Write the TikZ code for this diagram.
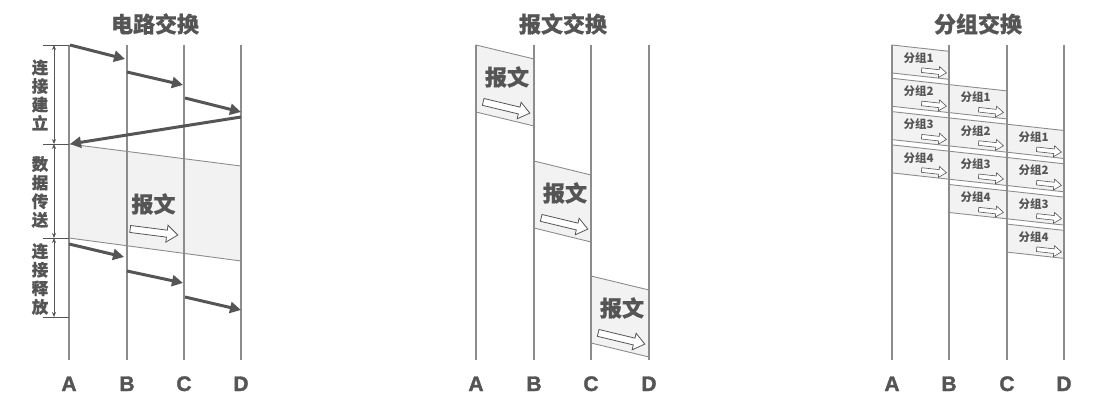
\documentclass[tikz,border=0pt]{standalone}
\usepackage{fontspec}
\setmainfont{Liberation Sans}
\newfontfamily\heavy{Liberation Sans}[BoldFeatures={FakeBold=1.6}]
\newfontfamily\cjk{Noto Sans CJK SC}
\newfontfamily\cjkheavy{Noto Sans CJK SC}[BoldFeatures={FakeBold=0.6}]
\usetikzlibrary{arrows.meta}
\definecolor{txt}{HTML}{555555}
\definecolor{ln}{HTML}{8C8C8C}
\definecolor{arr}{HTML}{555555}
\definecolor{boxfill}{HTML}{F2F2F2}
\begin{document}
\begin{tikzpicture}[x=1pt,y=-1pt,
  timeline/.style={draw=ln,line width=1.2pt},
  sig/.style={draw=arr,line width=3pt,-{Triangle[length=11pt,width=11pt]}},
  brk/.style={draw=arr,line width=0.8pt},
  dbl/.style={draw=arr,line width=0.7pt,{Stealth[length=5pt,width=4pt]}-{Stealth[length=5pt,width=4pt]}},
  title/.style={font=\cjkheavy\bfseries\fontsize{22}{24}\selectfont,text=txt},
  col/.style={font=\heavy\bfseries\fontsize{21}{24}\selectfont,text=txt,anchor=base},
  vlab/.style={font=\cjkheavy\bfseries\fontsize{16.5}{18.6}\selectfont,text=txt,align=center,inner sep=0pt},
  msg/.style={font=\cjkheavy\bfseries\fontsize{22}{24}\selectfont,text=txt,inner sep=0pt},
  pkt/.style={font=\cjk\bfseries\fontsize{11.5}{12}\selectfont,text=txt,inner sep=0pt},
  box/.style={draw=ln,fill=boxfill,line width=0.9pt},
  bigarrow/.pic={\draw[draw=arr,fill=white,line width=0.8pt,line join=miter]
     (-24,-3.5) -- (13,-3.5) -- (13,-8.5) -- (24,0) -- (13,8.5) -- (13,3.5) -- (-24,3.5) -- cycle;},
  smallarrow/.pic={\draw[draw=arr,fill=white,line width=0.6pt,line join=miter]
     (-12.5,-2.3) -- (5,-2.3) -- (5,-5.5) -- (12.5,0) -- (5,5.5) -- (5,2.3) -- (-12.5,2.3) -- cycle;}
]
\useasboundingbox (0,0) rectangle (1113,409);

% ================= circuit switching =================
\node[title] (t1) at (155,24) {电路交换};
% data region
\draw[box] (69,144) -- (241,166) -- (241,261) -- (69,238) -- cycle;
\node[msg] (cm) at (153.5,204) {报文};
\pic[rotate=-7.3] at (154,232) {bigarrow};
% timelines
\foreach \n/\x in {A/69,B/127,C/184,D/241}{
  \coordinate (c\n t) at (\x,45);
  \coordinate (c\n b) at (\x,360);
  \draw[timeline] (c\n t) -- (c\n b);
  \node[col] (c\n l) at (\x,391) {\n};
}
% setup arrows
\coordinate (s1a) at (70,45);  \coordinate (s1b) at (125,59);
\coordinate (s2a) at (127,72); \coordinate (s2b) at (183,85);
\coordinate (s3a) at (185,98); \coordinate (s3b) at (241,112);
\coordinate (s4a) at (241,117);\coordinate (s4b) at (70,144);
\draw[sig] (s1a) -- (s1b);
\draw[sig] (s2a) -- (s2b);
\draw[sig] (s3a) -- (s3b);
\draw[sig] (s4a) -- (s4b);
% release arrows
\coordinate (r1a) at (69,244);  \coordinate (r1b) at (124,257);
\coordinate (r2a) at (127,271); \coordinate (r2b) at (183,283);
\coordinate (r3a) at (185,297); \coordinate (r3b) at (241,310);
\draw[sig] (r1a) -- (r1b);
\draw[sig] (r2a) -- (r2b);
\draw[sig] (r3a) -- (r3b);
% bracket
\foreach \k/\y in {0/45,1/144,2/238,3/317}{
  \coordinate (k\k l) at (43,\y);
  \coordinate (k\k r) at (69,\y);
  \coordinate (k\k m) at (54,\y);
  \draw[brk] (k\k l) -- (k\k r);
}
\draw[dbl] (k0m) -- (k1m);
\draw[dbl] (k1m) -- (k2m);
\draw[dbl] (k2m) -- (k3m);
\node[vlab] (v1) at (40,95) {连\\接\\建\\立};
\node[vlab] (v2) at (40,192) {数\\据\\传\\送};
\node[vlab] (v3) at (40,279) {连\\接\\释\\放};

% ================= message switching =================
\node[title] (t2) at (563,24) {报文交换};
\foreach \m/\xa/\xb/\ya in {1/476/534/45,2/534/591/161,3/591/649/276}{
  \draw[box] (\xa,\ya) -- ({\xb},{\ya+14}) -- ({\xb},{\ya+81}) -- ({\xa},{\ya+67}) -- cycle;
  \node[msg] (mm\m) at ({\xa+31},{\ya+32}) {报文};
  \pic[rotate=-13.5] at ({\xa+30.5},{\ya+62.5}) {bigarrow};
}
\foreach \n/\x in {A/476,B/534,C/591,D/649}{
  \coordinate (m\n t) at (\x,45);
  \coordinate (m\n b) at (\x,360);
  \draw[timeline] (m\n t) -- (m\n b);
  \node[col] (m\n l) at (\x,391) {\n};
}

% ================= packet switching =================
\node[title] (t3) at (978,24) {分组交换};
\foreach \i in {1,...,4}{
  \foreach \j/\xa/\xb in {0/892/949,1/949/1007,2/1007/1064}{
    \pgfmathsetmacro\yy{45+(\i-1+\j)*33.3+\j*6.3}
    \draw[box] ({\xa},{\yy}) -- ({\xb},{\yy+6.3}) -- ({\xb},{\yy+34.3}) -- ({\xa},{\yy+28}) -- cycle;
    \node[pkt] (p\i\j) at ({\xa+26.5},{\yy+13}) {分组\i};
    \pic[rotate=-6.3] at ({\xa+42},{\yy+26.5}) {smallarrow};
  }
}
\foreach \n/\x in {A/892,B/949,C/1007,D/1064}{
  \coordinate (p\n t) at (\x,45);
  \coordinate (p\n b) at (\x,360);
  \draw[timeline] (p\n t) -- (p\n b);
  \node[col] (p\n l) at (\x,391) {\n};
}
\end{tikzpicture}
\end{document}
